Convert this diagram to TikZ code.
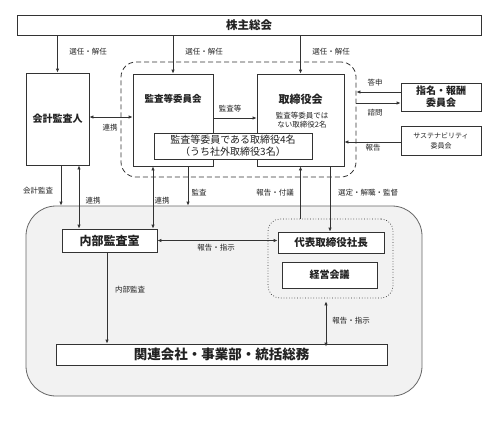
\documentclass[tikz,border=0pt]{standalone}
\usepackage{fontspec}
\setmainfont{Noto Sans CJK JP}
\usetikzlibrary{arrows.meta,calc}
\definecolor{linec}{HTML}{333333}
\definecolor{regc}{HTML}{F2F2F2}
\definecolor{regline}{HTML}{666666}
\definecolor{txtc}{HTML}{222222}
\begin{document}
\begin{tikzpicture}[x=1pt,y=-1pt,
  box/.style={draw=linec, fill=white, line width=0.8pt, inner sep=0pt, align=center, text=txtc},
  lab/.style={font=\fontsize{7.5}{9}\selectfont, inner sep=0pt, text=txtc},
  tip/.tip={Latex[length=4pt,width=3.5pt]},
  arr/.style={draw=linec, line width=0.8pt, -tip},
  darr/.style={draw=linec, line width=0.8pt, tip-tip},
]
\useasboundingbox (0,0) rectangle (492,426);

% regions
\node[draw=regline, fill=regc, line width=0.8pt, rounded corners=30pt, minimum width=396pt, minimum height=190pt] (breg) at (224,301) {};
\node[draw=linec, fill=white, dash pattern=on 5pt off 3pt, line width=0.8pt, rounded corners=15pt, minimum width=235pt, minimum height=115pt] (dreg) at (238.5,119.5) {};
\node[draw=linec, fill=regc, dotted, line width=0.7pt, rounded corners=12pt, minimum width=125pt, minimum height=79pt] (dotreg) at (330.5,258.5) {};

% boxes
\node[box, minimum width=464pt, minimum height=20pt, font=\bfseries\fontsize{11.5}{13}\selectfont] (sh) at (249,25) {株主総会};
\node[box, minimum width=63pt, minimum height=92pt, font=\bfseries\fontsize{10}{12}\selectfont] (ka) at (57.5,119) {会計監査人};
\node[box, minimum width=80pt, minimum height=92pt] (iin) at (173,120) {};
\node[inner sep=0pt, text=txtc, font=\bfseries\fontsize{9.5}{11}\selectfont] (iint) at (173,99) {監査等委員会};
\node[box, minimum width=87pt, minimum height=92pt] (tori) at (300.5,120) {};
\node[inner sep=0pt, text=txtc, font=\bfseries\fontsize{11}{13}\selectfont] (torit) at (300.5,99) {取締役会};
\node[inner sep=0pt, text=txtc, align=center, font=\fontsize{7.5}{8.5}\selectfont] (toris) at (302,120) {監査等委員では\\ない取締役2名};
\node[box, minimum width=158pt, minimum height=26pt, font=\fontsize{10}{12}\selectfont] (four) at (233,146) {監査等委員である取締役4名\\（うち社外取締役3名）};
\node[box, minimum width=80pt, minimum height=28pt, font=\bfseries\fontsize{10}{12}\selectfont] (shimei) at (441,97) {指名・報酬\\委員会};
\node[box, minimum width=80pt, minimum height=29pt, font=\fontsize{7}{10}\selectfont] (sus) at (441,140.5) {サステナビリティ\\委員会};
\node[box, minimum width=95pt, minimum height=23pt, font=\bfseries\fontsize{12}{14}\selectfont] (naibu) at (109.5,240.5) {内部監査室};
\node[box, minimum width=106pt, minimum height=21pt, font=\bfseries\fontsize{10.5}{12}\selectfont] (dai) at (331,242.5) {代表取締役社長};
\node[box, minimum width=95pt, minimum height=26pt, font=\bfseries\fontsize{10}{12}\selectfont] (kei) at (329.5,275) {経営会議};
\node[box, minimum width=331pt, minimum height=21pt, font=\bfseries\fontsize{13.5}{15}\selectfont] (kan) at (221.5,354.5) {関連会社・事業部・統括総務};

% arrows from shareholders
\draw[arr] (sh.south -| ka) -- (ka.north);
\draw[arr] (sh.south -| iin) -- (iin.north);
\draw[arr] (sh.south -| tori) -- (tori.north);
\node[lab] (l1) at (88,52) {選任・解任};
\node[lab] (l2) at (204,52) {選任・解任};
\node[lab] (l3) at (331,52) {選任・解任};

% upper horizontal arrows
\draw[darr] ([yshift=2pt]ka.east) -- ([yshift=2pt]ka.east -| iin.west);
\node[lab] (l4) at (110,128) {連携};
\draw[arr] ([yshift=2pt]iin.east) -- ([yshift=2pt]iin.east -| tori.west);
\node[lab] (l5) at (230,109) {監査等};
\draw[arr] ([yshift=5pt]shimei.west) -- ([yshift=5pt]shimei.west -| dreg.east);
\node[lab] (l6) at (375,83) {答申};
\draw[arr] ([yshift=-6pt]shimei.west -| dreg.east) -- ([yshift=-6pt]shimei.west);
\node[lab] (l7) at (375,113) {諮問};
\draw[arr] ([yshift=-1.5pt]sus.west) -- ([yshift=-1.5pt]sus.west -| tori.east);
\node[lab] (l8) at (373,148) {報告};

% vertical arrows to lower region
\draw[arr] ([xshift=3.5pt]ka.south) -- ([xshift=3.5pt]ka.south |- breg.north);
\node[lab] (l9) at (38,191) {会計監査};
\draw[darr] ([xshift=21.5pt]ka.south) -- ([xshift=21.5pt]ka.south |- naibu.north);
\node[lab] (l10) at (93,201) {連携};
\draw[darr] ([xshift=-20pt]iin.south) -- ([xshift=-20pt]iin.south |- naibu.north);
\node[lab] (l11) at (162,201) {連携};
\draw[arr] ([xshift=15pt]iin.south) -- ([xshift=15pt]iin.south |- breg.north);
\node[lab] (l12) at (199,193) {監査};
\draw[arr] (tori.south |- dotreg.north) -- (tori.south);
\node[lab] (l13) at (275,193) {報告・付議};
\draw[arr] ([xshift=29.5pt]tori.south) -- ([xshift=29.5pt]tori.south |- dai.north);
\node[lab] (l14) at (368,193) {選定・解職・監督};

% lower arrows
\draw[darr] (naibu.east) -- (naibu.east -| dai.west);
\node[lab] (l15) at (216,248) {報告・指示};
\draw[arr] ([xshift=-2.5pt]naibu.south) -- ([xshift=-2.5pt]naibu.south |- kan.north);
\node[lab] (l16) at (130,290) {内部監査};
\draw[darr] ([xshift=-4.5pt,yshift=-3pt]dotreg.south) -- ([xshift=-4.5pt,yshift=-3pt]dotreg.south |- kan.north);
\node[lab] (l17) at (351,321) {報告・指示};
\end{tikzpicture}
\end{document}
